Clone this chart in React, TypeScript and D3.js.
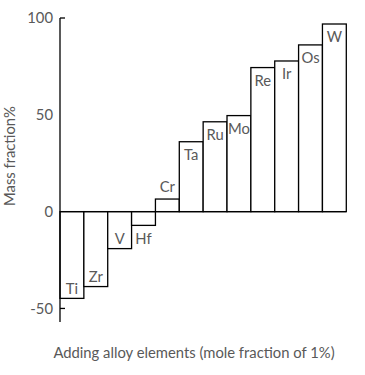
import React from "react";
import * as d3 from "d3";

const elements = ["Ti", "Zr", "V", "Hf", "Cr", "Ta", "Ru", "Mo", "Re", "Ir", "Os", "W"];
const massFraction = [-44.8, -38.7, -19.1, -7.1, 6.5, 36.1, 46.4, 49.6, 74.4, 77.8, 86.1, 96.9];
const yTicks = [100, 50, 0, -50];
const xTitle = "Adding alloy elements (mole fraction of 1%)";
const yTitle = "Mass fraction%";

const W = 365;
const H = 375;
const FONT = "Lato, 'Open Sans', sans-serif";
const GRAY = "#595959";
const FS = 14.8;

export default function App() {
  const x = d3.scaleBand<string>().domain(elements).range([60, 346.3]).padding(0);
  const y = d3.scaleLinear().domain([-57, 100]).range([322, 18]);
  const y0 = y(0);

  return (
    <svg width={W} height={H} style={{ position: "absolute", left: 0, top: 0, background: "#fff" }}>
      {elements.map((el, i) => {
        const v = massFraction[i];
        const x0 = x(el)!;
        const top = Math.min(y(v), y0);
        const h = Math.abs(y(v) - y0);
        const cx = x0 + x.bandwidth() / 2;
        const small = h < 20;
        let ly: number;
        if (v >= 0) ly = small ? y(v) - 12 : y(v) + 13;
        else ly = small ? y(v) + 13 : y(v) - 10;
        return (
          <g key={el}>
            <rect x={x0} y={top} width={x.bandwidth()} height={h} fill="#fff" stroke="#000" strokeWidth={1.3} />
            <text x={cx} y={ly} dy="0.35em" textAnchor="middle" fontFamily={FONT} fontSize={FS} fill={GRAY}>
              {el}
            </text>
          </g>
        );
      })}
      <line x1={60} x2={346.3} y1={y0} y2={y0} stroke="#000" strokeWidth={1.3} />
      <line x1={60} x2={60} y1={y(100)} y2={322} stroke="#000" strokeWidth={1.3} />
      {[100, -50].map((t) => (
        <line key={t} x1={60} x2={65} y1={y(t)} y2={y(t)} stroke="#000" strokeWidth={1.3} />
      ))}
      {yTicks.map((t) => (
        <text key={t} x={53} y={y(t)} dy="0.35em" textAnchor="end" fontFamily={FONT} fontSize={FS} fill={GRAY}>
          {t}
        </text>
      ))}
      <text x={194} y={353} dy="0.35em" textAnchor="middle" fontFamily={FONT} fontSize={FS} fill={GRAY}>
        {xTitle}
      </text>
      <text
        transform={`translate(10,${156}) rotate(-90)`}
        dy="0.35em"
        textAnchor="middle"
        fontFamily={FONT}
        fontSize={FS}
        fill={GRAY}
      >
        {yTitle}
      </text>
    </svg>
  );
}
